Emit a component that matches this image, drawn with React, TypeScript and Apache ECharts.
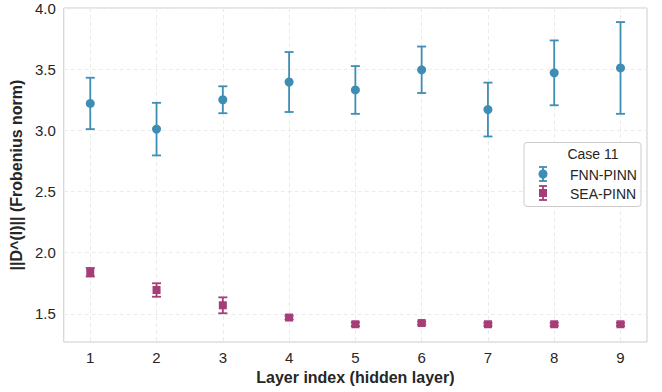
import React, { useEffect, useRef } from "react";
import * as echarts from "echarts";

const layers = [1, 2, 3, 4, 5, 6, 7, 8, 9];
const fnnMean = [3.22, 3.01, 3.25, 3.395, 3.33, 3.495, 3.17, 3.47, 3.51];
const fnnErr = [0.21, 0.215, 0.11, 0.245, 0.195, 0.19, 0.22, 0.265, 0.375];
const seaMean = [1.84, 1.695, 1.57, 1.47, 1.415, 1.425, 1.415, 1.415, 1.415];
const seaErr = [0.035, 0.055, 0.065, 0.015, 0.015, 0.012, 0.012, 0.012, 0.012];
const yTicks = [1.5, 2.0, 2.5, 3.0, 3.5, 4.0];
const legendTitle = "Case 11";
const seriesNames = ["FNN-PINN", "SEA-PINN"];

const FNN_COLOR = "#3d8db5";
const SEA_COLOR = "#a53d76";
const FONT = "Liberation Sans, Arial, sans-serif";

function errorSeries(mean: number[], err: number[], color: string) {
  return {
    type: "custom",
    silent: true,
    data: layers.map((x, i) => [x, mean[i] - err[i], mean[i] + err[i]]),
    encode: { x: 0, y: [1, 2] },
    renderItem: (params: any, api: any) => {
      const x = api.value(0);
      const lo = api.value(1);
      const hi = api.value(2);
      const pHi = api.coord([x, hi]);
      const pLo = api.coord([x, lo]);
      const cap = 4.5;
      const style = { stroke: color, lineWidth: 1.8 };
      return {
        type: "group",
        children: [
          { type: "line", shape: { x1: pHi[0], y1: pHi[1], x2: pLo[0], y2: pLo[1] }, style },
          { type: "line", shape: { x1: pHi[0] - cap, y1: pHi[1], x2: pHi[0] + cap, y2: pHi[1] }, style },
          { type: "line", shape: { x1: pLo[0] - cap, y1: pLo[1], x2: pLo[0] + cap, y2: pLo[1] }, style },
        ],
      };
    },
    z: 2,
  };
}

export default function App() {
  const ref = useRef<HTMLDivElement>(null);
  useEffect(() => {
    if (!ref.current) return;
    const chart = echarts.init(ref.current, null, { renderer: "svg" });
    const lx = 543;
    const cap = 4;
    const Z = 100;
    chart.setOption({
      animation: false,
      backgroundColor: "#ffffff",
      grid: {
        left: 62,
        right: 15,
        top: 8,
        bottom: 50,
        show: true,
        borderColor: "#cccccc",
        borderWidth: 1,
        backgroundColor: "#ffffff",
      },
      xAxis: {
        type: "value",
        min: 0.6,
        max: 9.4,
        name: "Layer index (hidden layer)",
        nameLocation: "middle",
        nameGap: 26,
        nameTextStyle: { fontFamily: FONT, fontSize: 16, fontWeight: "bold", color: "#262626" },
        axisLine: { show: false },
        axisTick: { show: false, customValues: layers },
        axisLabel: { customValues: layers, fontFamily: FONT, fontSize: 15, color: "#262626", margin: 8 },
        splitLine: { show: true, lineStyle: { color: "#ebebeb", type: [4, 3], width: 1 } },
      },
      yAxis: {
        type: "value",
        min: 1.27,
        max: 4.0,
        name: "||D^(l)|| (Frobenius norm)",
        nameLocation: "middle",
        nameGap: 39,
        nameTextStyle: { fontFamily: FONT, fontSize: 16, fontWeight: "bold", color: "#262626" },
        axisLine: { show: false },
        axisTick: { show: false, customValues: yTicks },
        axisLabel: {
          customValues: yTicks,
          fontFamily: FONT,
          fontSize: 15,
          color: "#262626",
          margin: 8,
          formatter: (v: number) => v.toFixed(1),
        },
        splitLine: { show: true, lineStyle: { color: "#ebebeb", type: [4, 3], width: 1 } },
      },
      series: [
        errorSeries(fnnMean, fnnErr, FNN_COLOR),
        {
          type: "scatter",
          name: seriesNames[0],
          data: layers.map((x, i) => [x, fnnMean[i]]),
          symbol: "circle",
          symbolSize: 9,
          itemStyle: { color: FNN_COLOR, opacity: 1 },
          z: 3,
        },
        errorSeries(seaMean, seaErr, SEA_COLOR),
        {
          type: "scatter",
          name: seriesNames[1],
          data: layers.map((x, i) => [x, seaMean[i]]),
          symbol: "rect",
          symbolSize: 8,
          itemStyle: { color: SEA_COLOR, opacity: 1 },
          z: 3,
        },
      ],
      graphic: [
        {
          type: "rect",
          z: Z,
          shape: { x: 524, y: 142.5, width: 117, height: 64, r: 3 },
          style: { fill: "#ffffff", stroke: "#cccccc", lineWidth: 1 },
        },
        {
          type: "text",
          z: Z + 1,
          x: 593,
          y: 153.5,
          style: { text: legendTitle, font: `14px ${FONT}`, fill: "#262626", align: "center", verticalAlign: "middle" },
        },
        { type: "line", z: Z + 1, shape: { x1: lx, y1: 167, x2: lx, y2: 181 }, style: { stroke: FNN_COLOR, lineWidth: 1.8 } },
        { type: "line", z: Z + 1, shape: { x1: lx - cap, y1: 167, x2: lx + cap, y2: 167 }, style: { stroke: FNN_COLOR, lineWidth: 1.8 } },
        { type: "line", z: Z + 1, shape: { x1: lx - cap, y1: 181, x2: lx + cap, y2: 181 }, style: { stroke: FNN_COLOR, lineWidth: 1.8 } },
        { type: "circle", z: Z + 2, shape: { cx: lx, cy: 174, r: 4.5 }, style: { fill: FNN_COLOR } },
        {
          type: "text",
          z: Z + 1,
          x: 570,
          y: 174.5,
          style: { text: seriesNames[0], font: `14px ${FONT}`, fill: "#262626", verticalAlign: "middle" },
        },
        { type: "line", z: Z + 1, shape: { x1: lx, y1: 186, x2: lx, y2: 200 }, style: { stroke: SEA_COLOR, lineWidth: 1.8 } },
        { type: "line", z: Z + 1, shape: { x1: lx - cap, y1: 186, x2: lx + cap, y2: 186 }, style: { stroke: SEA_COLOR, lineWidth: 1.8 } },
        { type: "line", z: Z + 1, shape: { x1: lx - cap, y1: 200, x2: lx + cap, y2: 200 }, style: { stroke: SEA_COLOR, lineWidth: 1.8 } },
        { type: "rect", z: Z + 2, shape: { x: lx - 4, y: 189, width: 8, height: 8 }, style: { fill: SEA_COLOR } },
        {
          type: "text",
          z: Z + 1,
          x: 570,
          y: 193.5,
          style: { text: seriesNames[1], font: `14px ${FONT}`, fill: "#262626", verticalAlign: "middle" },
        },
      ],
    });
    return () => chart.dispose();
  }, []);
  return <div ref={ref} style={{ width: 662, height: 392, position: "absolute", left: 0, top: 0 }} />;
}
